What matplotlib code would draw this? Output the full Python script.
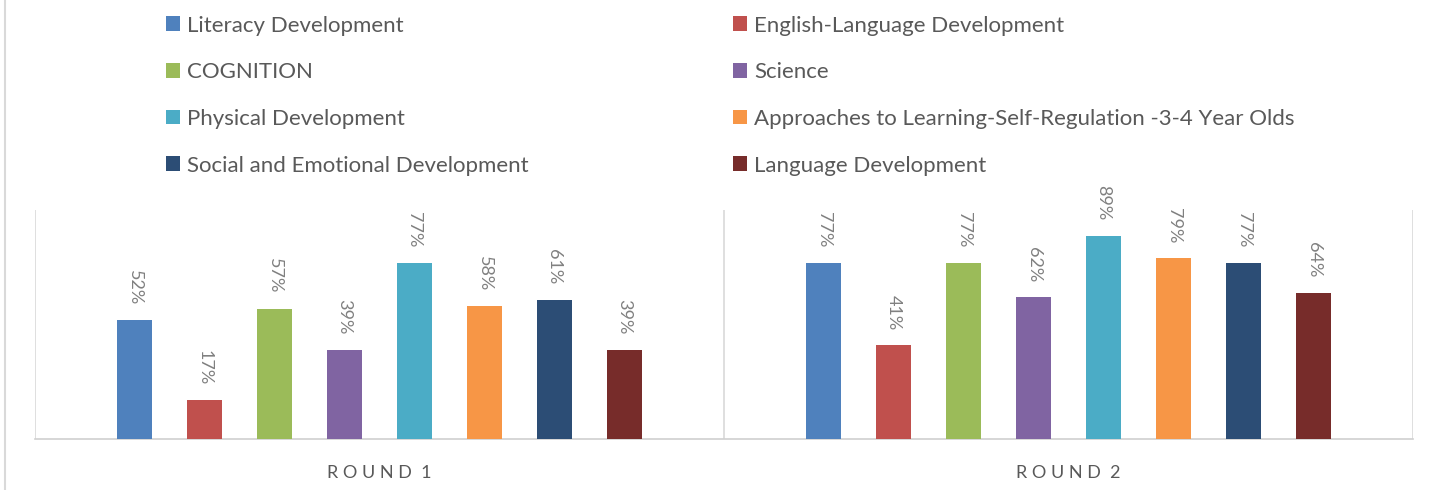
import matplotlib
matplotlib.use("Agg")
import matplotlib.pyplot as plt
from matplotlib.patches import Patch
from matplotlib.lines import Line2D
import numpy as np

plt.rcParams['font.family'] = ['Lato', 'DejaVu Sans']

categories = ["ROUND 1", "ROUND 2"]
series_names = [
    "Literacy Development",
    "English-Language Development",
    "COGNITION",
    "Science",
    "Physical Development",
    "Approaches to Learning-Self-Regulation -3-4 Year Olds",
    "Social and Emotional Development",
    "Language Development",
]
round1 = [0.52, 0.17, 0.57, 0.39, 0.77, 0.58, 0.61, 0.39]
round2 = [0.77, 0.41, 0.77, 0.62, 0.89, 0.79, 0.77, 0.64]
colors = ["#4F81BD", "#C0504D", "#9BBB59", "#8064A2",
          "#4BACC6", "#F79646", "#2C4D75", "#772C2A"]

W, H = 1444, 490
fig = plt.figure(figsize=(W / 100, H / 100), dpi=100)
ax = fig.add_axes([35 / W, 1 - 439 / H, 1378 / W, 228.6 / H])

x = np.arange(len(categories))
slot = 70 / 689
bw = 35 / 689
n = len(series_names)
for i in range(n):
    vals = [round1[i], round2[i]]
    xs = x + (i - (n - 1) / 2) * slot
    ax.bar(xs, vals, width=bw, color=colors[i], label=series_names[i], zorder=3)
    for xi, v in zip(xs, vals):
        ax.annotate(f"{int(round(v * 100))}%", (xi, v), xytext=(0, 11),
                    textcoords="offset points", rotation=270,
                    ha="center", va="bottom", fontsize=13, color="#808080")

ax.set_xlim(-0.5, 1.5)
ax.set_ylim(0, 1.0)
ax.set_yticks([])
ax.set_xticks(x)
ax.set_xticklabels([" ".join(c.replace(" ", "")[:-1]) + "  " + c[-1] for c in categories],
                   fontsize=13, color="#595959")
ax.tick_params(axis="x", length=0, pad=19)
for s in ["top", "left", "right"]:
    ax.spines[s].set_visible(False)
ax.spines["bottom"].set_color("#D0D0D0")
ax.spines["bottom"].set_linewidth(1.2)
for b in [-0.5, 0.5, 1.5]:
    ax.axvline(b, color="#D9D9D9", lw=1.2, zorder=1)

# chart border on the left
fig.add_artist(Line2D([5 / W, 5 / W], [0, 1], color="#D9D9D9", lw=1.5))

handles = [Patch(facecolor=c) for c in colors]
left_idx = [0, 2, 4, 6]
right_idx = [1, 3, 5, 7]
common = dict(frameon=False, fontsize=16, labelcolor="#595959",
              handlelength=0.62, handleheight=0.62, handletextpad=0.32,
              labelspacing=1.2, borderpad=0, borderaxespad=0, loc="upper left")
leg1 = fig.legend([handles[i] for i in left_idx], [series_names[i] for i in left_idx],
                  bbox_to_anchor=(166 / W, 1 - 15.5 / H), **common)
leg2 = fig.legend([handles[i] for i in right_idx], [series_names[i] for i in right_idx],
                  bbox_to_anchor=(733 / W, 1 - 15.5 / H), **common)

fig.savefig("out.png", dpi=100, facecolor="white")
